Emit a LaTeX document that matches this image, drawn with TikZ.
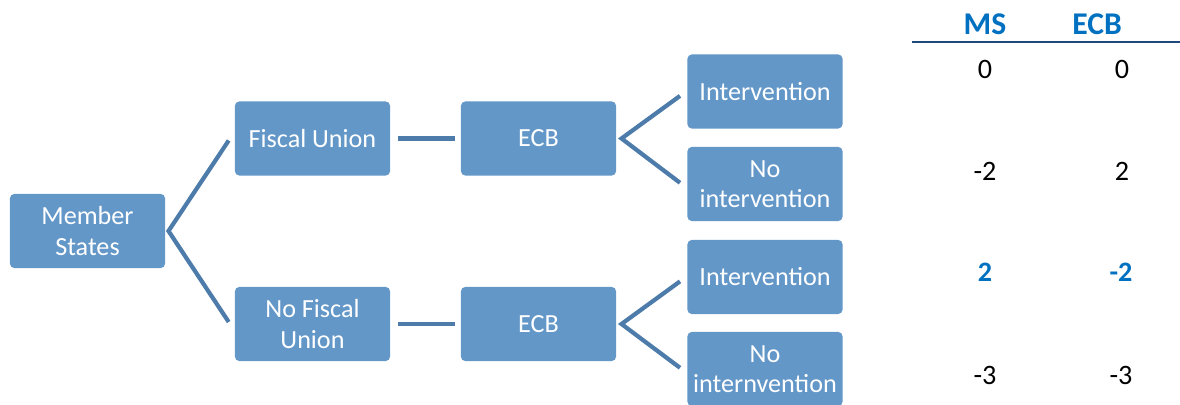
\documentclass[tikz,border=0pt]{standalone}
\usepackage{fontspec}
\setmainfont{Carlito}
\definecolor{boxblue}{RGB}{99,151,200}
\definecolor{linkblue}{RGB}{78,124,170}
\definecolor{headblue}{RGB}{0,112,192}
\definecolor{ruleblue}{RGB}{31,73,125}
\begin{document}
\begin{tikzpicture}[x=0.025cm,y=-0.025cm,
  choice/.style={fill=boxblue,rounded corners=3pt,minimum width=3.875cm,
    minimum height=1.85cm,inner sep=0pt,text=white,align=center,
    font=\fontsize{18.6}{21.5}\selectfont},
  branch/.style={linkblue,line width=3pt},
  payoff/.style={font=\fontsize{20}{24}\selectfont},
  best/.style={payoff,headblue,font=\fontsize{20}{24}\selectfont\bfseries},
  head/.style={headblue,font=\fontsize{22.5}{26}\selectfont\bfseries}]
  \useasboundingbox (0,0) rectangle (1180,405);
  % game tree
  \node [choice] (ms) at (87.5,231) {Member\\States};
  \node [choice] (fu) at (312.5,138.5) {Fiscal Union};
  \node [choice] (nfu) at (312.5,324) {No Fiscal\\Union};
  \node [choice] (ecbfu) at (538.5,138.5) {ECB};
  \node [choice] (ecbnfu) at (538.5,324) {ECB};
  \node [choice] (int1) at (765,91.5) {Intervention};
  \node [choice] (noint1) at (765,184) {No\\intervention};
  \node [choice] (int2) at (765,277) {Intervention};
  \node [choice] (noint2) at (765,369) {No\\internvention};
  \coordinate (msfork) at ([xshift=0.08cm]ms.east);
  \coordinate (fufork) at ([xshift=0.13cm]ecbfu.east);
  \coordinate (nfufork) at ([xshift=0.13cm]ecbnfu.east);
  \draw [branch] ([xshift=-0.15cm,yshift=-0.05cm]fu.west) -- (msfork) -- ([xshift=-0.15cm,yshift=0.05cm]nfu.west);
  \draw [branch,shorten <=0.2cm,shorten >=0.15cm] (fu) -- (ecbfu);
  \draw [branch,shorten <=0.2cm,shorten >=0.15cm] (nfu) -- (ecbnfu);
  \draw [branch] ([xshift=-0.18cm,yshift=-0.11cm]int1.west) -- (fufork) -- ([xshift=-0.18cm,yshift=0.03cm]noint1.west);
  \draw [branch] ([xshift=-0.18cm,yshift=-0.11cm]int2.west) -- (nfufork) -- ([xshift=-0.18cm,yshift=0.03cm]noint2.west);
  % payoff table
  \node [head] (mshead) at (985,24) {MS};
  \node [head] (ecbhead) at (1097,24) {ECB};
  \draw [ruleblue,line width=1.5pt] (912,42) -- (1180,42);
  \node [payoff] (ms1) at (985,69) {0};
  \node [payoff] (ecb1) at (1122,69) {0};
  \node [payoff] (ms2) at (985,171) {-2};
  \node [payoff] (ecb2) at (1122,171) {2};
  \node [best] (ms3) at (985,272) {2};
  \node [best] (ecb3) at (1121,272) {-2};
  \node [payoff] (ms4) at (985,375) {-3};
  \node [payoff] (ecb4) at (1121,375) {-3};
\end{tikzpicture}
\end{document}
